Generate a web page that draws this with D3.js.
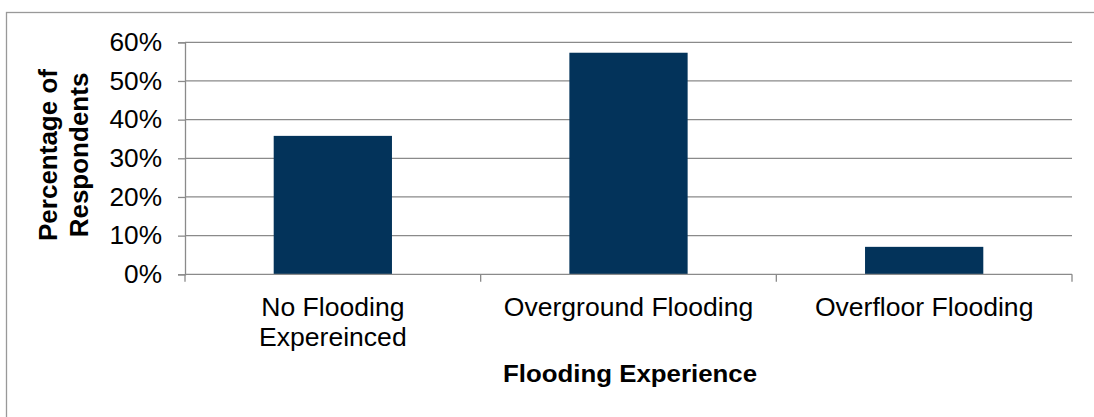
<!DOCTYPE html>
<html>
<head>
<meta charset="utf-8">
<script src="https://cdn.jsdelivr.net/npm/d3@7"></script>
<style>
  html, body { margin: 0; padding: 0; background: #ffffff; }
  svg { display: block; font-family: "Liberation Sans", Arial, sans-serif; }
</style>
</head>
<body>
<svg id="chart" width="1094" height="417"></svg>
<script>
// Share of respondents by flooding experience
const categories = [["No Flooding", "Expereinced"], ["Overground Flooding"], ["Overfloor Flooding"]];
const values = [0.358, 0.573, 0.071];
const yTicks = [0, 0.1, 0.2, 0.3, 0.4, 0.5, 0.6];
const yTitle = ["Percentage of", "Respondents"];
const xTitle = "Flooding Experience";

const W = 1094, H = 417;
const plot = { left: 185, right: 1072, top: 42.3, bottom: 274.3 };
const barColor = "#03335a";
const gridColor = "#8a8a8a";
const textStretch = 1.05;

const svg = d3.select("#chart");

// outer frame (runs off the right and bottom edges)
svg.append("rect")
  .attr("x", 6.5).attr("y", 12.5)
  .attr("width", W + 10).attr("height", H + 10)
  .attr("fill", "none").attr("stroke", "#999999").attr("stroke-width", 1.3);

const keys = categories.map(c => c.join(" "));

const x = d3.scaleBand()
  .domain(keys)
  .range([plot.left, plot.right])
  .paddingInner(0.6)
  .paddingOuter(0.3);

const y = d3.scaleLinear()
  .domain([0, 0.6])
  .range([plot.bottom, plot.top]);

// gridlines + y axis
const yAxis = svg.append("g")
  .attr("transform", `translate(${plot.left},0)`)
  .call(d3.axisLeft(y).tickValues(yTicks).tickSize(7).tickFormat(""));
yAxis.select(".domain").attr("stroke", gridColor).attr("stroke-width", 1.3);
yAxis.selectAll(".tick line").attr("stroke", gridColor).attr("stroke-width", 1.3);

svg.append("g")
  .selectAll("line")
  .data(yTicks.filter(t => t > 0))
  .join("line")
  .attr("x1", plot.left).attr("x2", plot.right)
  .attr("y1", d => y(d)).attr("y2", d => y(d))
  .attr("stroke", gridColor).attr("stroke-width", 1.3);

// horizontally stretched text helper
function label(g, txt, px, py, size, weight, anchor) {
  return g.append("text")
    .attr("transform", `translate(${px},${py}) scale(${textStretch},1)`)
    .attr("text-anchor", anchor || "middle")
    .attr("font-size", size)
    .attr("font-weight", weight || "normal")
    .attr("fill", "#000")
    .text(txt);
}

const fmt = d3.format(".0%");
const tickLabels = svg.append("g");
yTicks.forEach(t => label(tickLabels, fmt(t), 162, y(t) + 8.6, 25, "normal", "end"));

// bars
svg.append("g")
  .selectAll("rect")
  .data(values)
  .join("rect")
  .attr("x", (d, i) => x(keys[i]))
  .attr("y", d => y(d))
  .attr("width", x.bandwidth())
  .attr("height", d => y(0) - y(d))
  .attr("fill", barColor);

// x axis line with category boundary ticks
const step = x.step();
const bounds = [x(keys[0]) - step * x.paddingOuter()].concat(
  keys.map(k => x(k) + x.bandwidth() + (step - x.bandwidth()) / 2));
svg.append("line")
  .attr("x1", plot.left).attr("x2", plot.right)
  .attr("y1", y(0)).attr("y2", y(0))
  .attr("stroke", gridColor).attr("stroke-width", 1.3);
svg.append("g")
  .selectAll("line")
  .data(bounds)
  .join("line")
  .attr("x1", d => d).attr("x2", d => d)
  .attr("y1", y(0)).attr("y2", y(0) + 7.4)
  .attr("stroke", gridColor).attr("stroke-width", 1.3);

// category labels
const catG = svg.append("g");
categories.forEach((lines, i) => {
  const cx = x(keys[i]) + x.bandwidth() / 2;
  lines.forEach((ln, j) => label(catG, ln, cx, 315.5 + j * 30, 25.3));
});

// axis titles
label(svg, xTitle, (plot.left + plot.right) / 2 + 1.5, 381.7, 24.6, "bold");

const yt = svg.append("text")
  .attr("transform", "translate(56.5,155) rotate(-90)")
  .attr("text-anchor", "middle")
  .attr("font-size", 26)
  .attr("font-weight", "bold")
  .attr("fill", "#000");
yTitle.forEach((ln, j) => yt.append("tspan").attr("x", 0).attr("dy", j ? 31.3 : 0).text(ln));
</script>
</body>
</html>
